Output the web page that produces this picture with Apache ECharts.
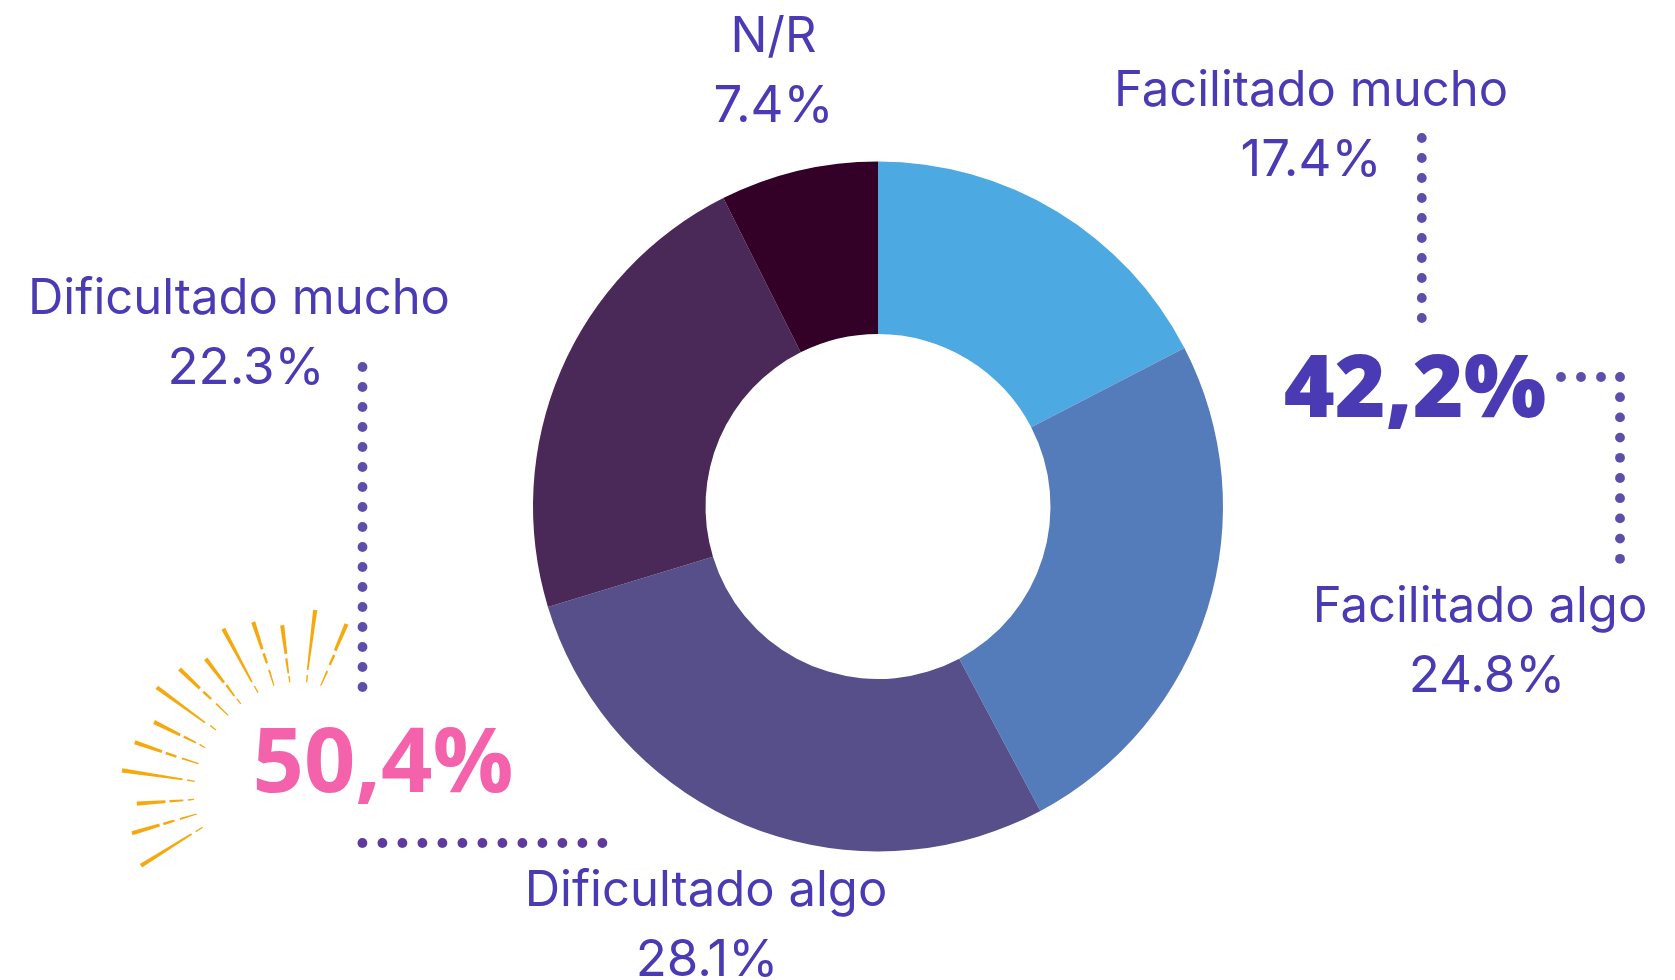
<!DOCTYPE html>
<html><head><meta charset="utf-8">
<style>html,body{margin:0;padding:0;background:#fff}#c{width:1675px;height:980px}</style>
<script src="https://cdn.jsdelivr.net/npm/echarts@6/dist/echarts.min.js"></script>
</head><body><div id="c"></div>
<script>
const categories = ['Facilitado mucho','Facilitado algo','Dificultado algo','Dificultado mucho','N/R'];
const values = [17.4,24.8,28.1,22.3,7.4];
const sliceColors = ['#4CA9E1','#557CBA','#564F89','#4A2858','#330028'];
const totals = ['42,2%','50,4%'];

const FONT = 'Inter';
const BIGFONT = '"Open Sans"';
const TXT = '#4A3BB5';
const labelAnchors = [[1311,126],[1480,642],[706,926],[239,334],[773.5,72]];
const valueShift = [0,14,2,14,0];

const chart = echarts.init(document.getElementById('c'));
const gfx = [];
function dots(x0,y0,dx,dy,n,color){
  for(let i=0;i<n;i++) gfx.push({type:'circle',silent:true,shape:{cx:x0+dx*i,cy:y0+dy*i,r:4.9},style:{fill:color}});
}
dots(362.5,367,0,20,17,'#5B4FAB');
dots(362.4,843,20,0,13,'#5F3A9E');
dots(1421.8,138,0,20,10,'#5B4FAB');
dots(1561,377,20,0,3,'#5B4FAB');
dots(1620,377,0,20.2,10,'#5B4FAB');

// sunburst decoration (crop coordinates of the reference, outer end first)
const rays = [
 [[625,60,603,240],[602,255,600,277]],
 [[716,102,683,182],[680,195,667,225],[660,243,641,287]],
 [[529,106,540,192],[541,205,547,250],[549,258,551,277]],
 [[445,96,471,178],[475,190,485,220],[491,240,505,287]],
 [[358,116,441,276],[448,288,459,308]],
 [[307,206,360,278],[367,285,390,318],[398,327,409,342]],
 [[231,237,290,295],[300,305,323,327],[337,341,372,376]],
 [[165,292,305,398],[320,407,337,420]],
 [[157,396,233,435],[243,440,279,458],[289,463,305,473]],
 [[101,457,180,485],[191,489,222,500],[238,505,286,521]],
 [[64,541,240,568],[253,570,275,574]],
 [[107,641,190,635],[202,634,242,631],[255,630,273,628]],
 [[93,730,173,705],[184,702,216,692],[232,687,281,672]],
 [[119,827,266,732],[278,725,298,712]]
];
const px = v => 100 + v/2.904, py = v => 590 + v/3;
rays.forEach(ray=>{
  const sx=ray[0][0], sy=ray[0][1], e=ray[ray.length-1], L=Math.hypot(e[2]-sx,e[3]-sy);
  const w=(x,y)=>4.2-3*Math.hypot(x-sx,y-sy)/L;
  ray.forEach(s=>{
    const x1=px(s[0]),y1=py(s[1]),x2=px(s[2]),y2=py(s[3]);
    const l=Math.hypot(x2-x1,y2-y1),nx=-(y2-y1)/l,ny=(x2-x1)/l;
    const a=w(s[0],s[1])/2,b=w(s[2],s[3])/2;
    gfx.push({type:'polygon',silent:true,shape:{points:[[x1+nx*a,y1+ny*a],[x2+nx*b,y2+ny*b],[x2-nx*b,y2-ny*b],[x1-nx*a,y1-ny*a]]},style:{fill:'#F6A90F'}});
  });
});

gfx.push({type:'text',silent:true,x:1415,y:392,style:{text:totals[0],font:'800 87px '+BIGFONT,fill:TXT,align:'center',verticalAlign:'middle'}});
gfx.push({type:'text',silent:true,x:383,y:766,style:{text:totals[1],font:'700 90px '+BIGFONT,fill:'#F562AC',align:'center',verticalAlign:'middle'}});

chart.setOption({
  animation:false,
  backgroundColor:'#fff',
  graphic:{elements:gfx},
  series:[{
    type:'pie',
    center:[878,506.5],
    radius:[172.5,345],
    startAngle:90,
    clockwise:true,
    silent:true,
    avoidLabelOverlap:false,
    data:categories.map((n,i)=>({name:n,value:values[i],itemStyle:{color:sliceColors[i]},
      label:{rich:{n:{fontFamily:FONT,fontSize:49,color:TXT,lineHeight:70,align:'center'},
                   v:{fontFamily:FONT,fontSize:51,color:TXT,lineHeight:70,align:'center',padding:[0,0,0,valueShift[i]]}}}})),
    label:{show:true,position:'outside',formatter:p=>'{n|'+p.name+'}\n{v|'+p.value.toFixed(1)+'%}'},
    labelLine:{show:false},
    labelLayout:p=>{const a=labelAnchors[p.dataIndex];return {x:a[0],y:a[1],align:'center',verticalAlign:'middle'};}
  }]
});
</script></body></html>
